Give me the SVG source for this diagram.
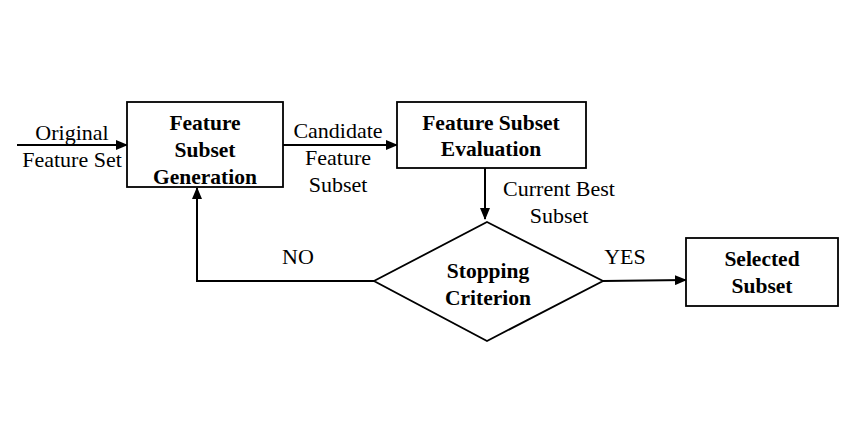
<svg xmlns="http://www.w3.org/2000/svg" width="850" height="425" viewBox="0 0 850 425">
<style>
.box{fill:#fff;stroke:#000;stroke-width:1.8}
.b{font-family:"Liberation Serif",serif;font-weight:bold;font-size:21.5px;text-anchor:middle;fill:#000}
.r{font-family:"Liberation Serif",serif;font-size:22px;text-anchor:middle;fill:#000}
.c{fill:none;stroke:#000;stroke-width:2}
</style>
<defs>
<marker id="ah" markerWidth="12" markerHeight="10" refX="11" refY="5" orient="auto" markerUnits="userSpaceOnUse">
<path d="M0,0 L12,5 L0,10 Z" fill="#000"/>
</marker>
</defs>
<rect width="850" height="425" fill="#fff"/>
<g id="connectors">
<line class="c" x1="17" y1="145" x2="127" y2="145" marker-end="url(#ah)"/>
<line class="c" x1="283" y1="145" x2="397" y2="145" marker-end="url(#ah)"/>
<line class="c" x1="485" y1="168" x2="485" y2="219" marker-end="url(#ah)"/>
<polyline class="c" points="374,281 197,281 197,188" marker-end="url(#ah)"/>
<line class="c" x1="603" y1="281" x2="686" y2="280" marker-end="url(#ah)"/>
<text class="r" x="72" y="140">Original</text>
<text class="r" x="72" y="167">Feature Set</text>
<text class="r" x="338" y="138">Candidate</text>
<text class="r" x="338" y="165">Feature</text>
<text class="r" x="338" y="192">Subset</text>
<text class="r" x="559" y="196">Current Best</text>
<text class="r" x="559" y="223">Subset</text>
<text class="r" x="298" y="264">NO</text>
<text class="r" x="625" y="264">YES</text>
</g>
<g id="gen">
<rect class="box" x="127" y="102" width="156" height="85"/>
<text class="b" x="205" y="130">Feature</text>
<text class="b" x="205" y="157">Subset</text>
<text class="b" x="205" y="184">Generation</text>
</g>
<g id="eval">
<rect class="box" x="397" y="102" width="189" height="66"/>
<text class="b" x="491" y="130">Feature Subset</text>
<text class="b" x="491" y="156">Evaluation</text>
</g>
<g id="stop">
<polygon class="box" points="487,222 603,281 487,341 374,281"/>
<text class="b" x="488" y="278">Stopping</text>
<text class="b" x="488" y="305">Criterion</text>
</g>
<g id="selected">
<rect class="box" x="686" y="238" width="152" height="68"/>
<text class="b" x="762" y="266">Selected</text>
<text class="b" x="762" y="293">Subset</text>
</g>
</svg>
